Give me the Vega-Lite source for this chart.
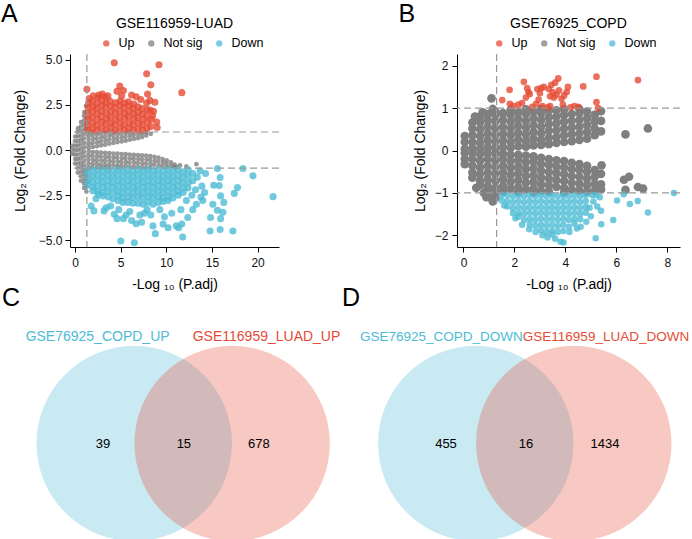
{
"$schema": "https://vega.github.io/schema/vega-lite/v6.json",
"padding": {"left": 1, "top": 2, "right": 0, "bottom": 0},
"background": "white",
"config": {
 "font": "Liberation Sans",
 "view": {"stroke": null},
 "axis": {"grid": false, "domainColor": "#000", "tickColor": "#000", "labelColor": "#111", "titleColor": "#000", "labelFontSize": 12, "titleFontSize": 14, "titleFontWeight": "normal", "tickSize": 5, "labelFlush": false, "labelOverlap": false, "labelFont": "Liberation Sans", "titleFont": "Liberation Sans"},
 "legend": {"orient": "none", "direction": "horizontal", "title": null, "symbolType": "circle", "symbolSize": 40, "symbolOpacity": 0.75, "symbolStrokeWidth": 0, "labelFontSize": 12.5, "labelFont": "Liberation Sans", "labelColor": "#000", "columnPadding": 10, "labelOffset": 6, "padding": 0}
},
"datasets": {
 "aU": [{"x":1.42,"y":1.12},{"x":1.38,"y":1.42},{"x":1.45,"y":1.75},{"x":1.4,"y":2.08},{"x":1.44,"y":2.36},{"x":1.5,"y":2.62},{"x":1.55,"y":2.85},
 {"x":1.9,"y":1.18},{"x":1.95,"y":1.5},{"x":1.88,"y":1.8},{"x":1.92,"y":2.1},{"x":1.97,"y":2.4},{"x":1.9,"y":2.7},
 {"x":2.4,"y":1.1},{"x":2.38,"y":1.38},{"x":2.45,"y":1.7},{"x":2.42,"y":2.02},{"x":2.36,"y":2.33},{"x":2.44,"y":2.6},{"x":2.5,"y":2.9},
 {"x":2.9,"y":1.2},{"x":2.95,"y":1.55},{"x":2.88,"y":1.85},{"x":2.92,"y":2.15},{"x":2.9,"y":2.45},{"x":2.96,"y":2.75},
 {"x":3.4,"y":1.12},{"x":3.38,"y":1.45},{"x":3.45,"y":1.75},{"x":3.42,"y":2.05},{"x":3.36,"y":2.38},{"x":3.4,"y":2.65},{"x":3.3,"y":2.95},
 {"x":3.9,"y":1.2},{"x":3.95,"y":1.5},{"x":3.88,"y":1.82},{"x":3.92,"y":2.12},{"x":3.9,"y":2.42},{"x":3.86,"y":2.7},
 {"x":4.4,"y":1.1},{"x":4.38,"y":1.42},{"x":4.45,"y":1.72},{"x":4.42,"y":2.05},{"x":4.36,"y":2.35},{"x":4.44,"y":2.62},
 {"x":4.9,"y":1.18},{"x":4.95,"y":1.5},{"x":4.88,"y":1.8},{"x":4.92,"y":2.12},{"x":4.9,"y":2.45},{"x":4.96,"y":2.72},
 {"x":5.4,"y":1.12},{"x":5.38,"y":1.4},{"x":5.45,"y":1.75},{"x":5.42,"y":2.05},{"x":5.36,"y":2.35},{"x":5.44,"y":2.6},
 {"x":5.9,"y":1.2},{"x":5.95,"y":1.5},{"x":5.88,"y":1.85},{"x":5.92,"y":2.15},{"x":5.9,"y":2.45},{"x":5.86,"y":2.68},
 {"x":6.4,"y":1.1},{"x":6.38,"y":1.4},{"x":6.45,"y":1.72},{"x":6.42,"y":2.02},{"x":6.36,"y":2.32},{"x":6.44,"y":2.55},
 {"x":6.9,"y":1.15},{"x":6.95,"y":1.48},{"x":6.88,"y":1.8},{"x":6.92,"y":2.1},{"x":6.9,"y":2.4},
 {"x":7.4,"y":1.1},{"x":7.38,"y":1.4},{"x":7.45,"y":1.7},{"x":7.42,"y":2.0},{"x":7.36,"y":2.3},
 {"x":7.9,"y":1.2},{"x":7.95,"y":1.55},{"x":7.88,"y":1.9},{"x":7.92,"y":2.25},{"x":7.85,"y":2.6},
 {"x":8.3,"y":1.3},{"x":8.35,"y":1.7},{"x":8.25,"y":2.2},
 {"x":4.3,"y":4.83},{"x":9.2,"y":4.72},{"x":7.85,"y":4.22},{"x":1.3,"y":3.37},{"x":4.9,"y":3.55},{"x":8.3,"y":3.61},{"x":11.7,"y":3.18},{"x":4.6,"y":3.25},{"x":5.3,"y":3.3},{"x":7.95,"y":3.1},{"x":8.2,"y":2.75},{"x":8.75,"y":2.65},{"x":8.95,"y":1.55},{"x":8.6,"y":2.15},{"x":8.5,"y":1.9},{"x":3.6,"y":3.0},{"x":6.2,"y":3.05},{"x":2.6,"y":3.05},{"x":7.2,"y":2.8},{"x":6.7,"y":2.95},{"x":9.0,"y":1.25},{"x":5.1,"y":3.0},{"x":3.0,"y":3.1},{"x":2.0,"y":3.0}],
 "aN": [{"x":-0.3,"y":-0.22},{"x":-0.32,"y":0.02},{"x":-0.28,"y":0.25},
 {"x":0,"y":-0.75},{"x":0.02,"y":-0.5},{"x":-0.02,"y":-0.25},{"x":0,"y":0},{"x":0.03,"y":0.25},{"x":-0.01,"y":0.5},{"x":0.02,"y":0.75},
 {"x":0.3,"y":-1.25},{"x":0.28,"y":-1.0},{"x":0.32,"y":-0.75},{"x":0.3,"y":-0.5},{"x":0.27,"y":-0.25},{"x":0.31,"y":0},{"x":0.29,"y":0.25},{"x":0.33,"y":0.5},{"x":0.3,"y":0.75},{"x":0.28,"y":1.0},{"x":0.32,"y":1.2},
 {"x":0.65,"y":-1.7},{"x":0.62,"y":-1.45},{"x":0.67,"y":-1.2},{"x":0.64,"y":-0.95},{"x":0.66,"y":-0.7},{"x":0.63,"y":-0.45},{"x":0.67,"y":-0.2},{"x":0.65,"y":0.05},{"x":0.62,"y":0.3},{"x":0.66,"y":0.55},{"x":0.64,"y":0.8},{"x":0.67,"y":1.05},{"x":0.63,"y":1.3},{"x":0.66,"y":1.55},
 {"x":1.0,"y":-2.1},{"x":0.98,"y":-1.85},{"x":1.02,"y":-1.6},{"x":0.99,"y":-1.35},{"x":1.01,"y":-1.1},{"x":0.97,"y":-0.85},{"x":1.03,"y":-0.6},{"x":1.0,"y":-0.35},{"x":0.98,"y":-0.1},{"x":1.02,"y":0.15},{"x":1.0,"y":0.4},{"x":0.97,"y":0.65},{"x":1.01,"y":0.9},{"x":1.03,"y":1.15},{"x":0.99,"y":1.4},{"x":1.0,"y":1.65},{"x":0.98,"y":1.9},{"x":1.02,"y":2.1},
 {"x":1.25,"y":-2.3},{"x":1.22,"y":-2.0},{"x":1.27,"y":-1.7},{"x":1.24,"y":-1.4},{"x":1.26,"y":-1.15},{"x":1.22,"y":1.2},{"x":1.27,"y":1.5},{"x":1.24,"y":1.8},{"x":1.26,"y":2.1},{"x":1.2,"y":2.45},
 {"x":1.5,"y":0.12},{"x":1.52,"y":0.34},{"x":1.48,"y":0.56},{"x":1.5,"y":0.78},{"x":1.53,"y":0.98},
 {"x":1.95,"y":0.17},{"x":1.93,"y":0.39},{"x":1.97,"y":0.61},{"x":1.95,"y":0.83},{"x":1.92,"y":1.0},
 {"x":2.4,"y":0.21},{"x":2.42,"y":0.43},{"x":2.38,"y":0.65},{"x":2.41,"y":0.87},
 {"x":2.85,"y":0.26},{"x":2.83,"y":0.48},{"x":2.87,"y":0.7},{"x":2.85,"y":0.92},
 {"x":3.3,"y":0.3},{"x":3.32,"y":0.52},{"x":3.28,"y":0.74},{"x":3.31,"y":0.96},
 {"x":3.75,"y":0.35},{"x":3.73,"y":0.57},{"x":3.77,"y":0.79},{"x":3.75,"y":0.99},
 {"x":4.2,"y":0.39},{"x":4.22,"y":0.61},{"x":4.18,"y":0.83},{"x":4.21,"y":1.0},
 {"x":4.65,"y":0.44},{"x":4.63,"y":0.66},{"x":4.67,"y":0.88},
 {"x":5.1,"y":0.48},{"x":5.12,"y":0.7},{"x":5.08,"y":0.92},
 {"x":5.55,"y":0.52},{"x":5.53,"y":0.74},{"x":5.57,"y":0.95},
 {"x":6.0,"y":0.57},{"x":6.02,"y":0.79},{"x":5.98,"y":0.98},
 {"x":6.45,"y":0.62},{"x":6.43,"y":0.84},{"x":6.9,"y":0.66},{"x":6.92,"y":0.88},{"x":7.35,"y":0.72},{"x":7.33,"y":0.93},{"x":7.8,"y":0.8},{"x":7.82,"y":0.96},{"x":8.3,"y":0.9},
 {"x":1.5,"y":-0.09},{"x":1.52,"y":-0.31},{"x":1.48,"y":-0.53},{"x":1.5,"y":-0.75},{"x":1.53,"y":-0.97},
 {"x":1.95,"y":-0.11},{"x":1.93,"y":-0.33},{"x":1.97,"y":-0.55},{"x":1.95,"y":-0.77},{"x":1.92,"y":-0.97},
 {"x":2.4,"y":-0.12},{"x":2.42,"y":-0.34},{"x":2.38,"y":-0.56},{"x":2.41,"y":-0.78},{"x":2.4,"y":-0.98},
 {"x":2.85,"y":-0.14},{"x":2.83,"y":-0.36},{"x":2.87,"y":-0.58},{"x":2.85,"y":-0.8},{"x":2.86,"y":-0.98},
 {"x":3.3,"y":-0.16},{"x":3.32,"y":-0.38},{"x":3.28,"y":-0.6},{"x":3.31,"y":-0.82},{"x":3.3,"y":-0.99},
 {"x":3.75,"y":-0.17},{"x":3.73,"y":-0.39},{"x":3.77,"y":-0.61},{"x":3.75,"y":-0.83},{"x":3.74,"y":-0.99},
 {"x":4.2,"y":-0.19},{"x":4.22,"y":-0.41},{"x":4.18,"y":-0.63},{"x":4.21,"y":-0.85},
 {"x":4.65,"y":-0.2},{"x":4.63,"y":-0.42},{"x":4.67,"y":-0.64},{"x":4.65,"y":-0.86},{"x":4.66,"y":-0.99},
 {"x":5.1,"y":-0.22},{"x":5.12,"y":-0.44},{"x":5.08,"y":-0.66},{"x":5.1,"y":-0.88},
 {"x":5.55,"y":-0.23},{"x":5.53,"y":-0.45},{"x":5.57,"y":-0.67},{"x":5.55,"y":-0.89},
 {"x":6.0,"y":-0.25},{"x":6.02,"y":-0.47},{"x":5.98,"y":-0.69},{"x":6.0,"y":-0.91},
 {"x":6.45,"y":-0.27},{"x":6.43,"y":-0.49},{"x":6.47,"y":-0.71},{"x":6.45,"y":-0.93},
 {"x":6.9,"y":-0.28},{"x":6.92,"y":-0.5},{"x":6.88,"y":-0.72},{"x":6.9,"y":-0.94},
 {"x":7.35,"y":-0.3},{"x":7.33,"y":-0.52},{"x":7.37,"y":-0.74},{"x":7.35,"y":-0.96},
 {"x":7.8,"y":-0.31},{"x":7.82,"y":-0.53},{"x":7.78,"y":-0.75},{"x":7.8,"y":-0.97},
 {"x":8.25,"y":-0.34},{"x":8.23,"y":-0.56},{"x":8.27,"y":-0.78},{"x":8.25,"y":-0.98},
 {"x":8.7,"y":-0.38},{"x":8.72,"y":-0.6},{"x":8.68,"y":-0.82},
 {"x":9.15,"y":-0.42},{"x":9.13,"y":-0.64},{"x":9.17,"y":-0.86},
 {"x":9.6,"y":-0.5},{"x":9.62,"y":-0.7},{"x":9.58,"y":-0.9},
 {"x":10.05,"y":-0.57},{"x":10.03,"y":-0.77},{"x":10.07,"y":-0.94},
 {"x":10.5,"y":-0.68},{"x":10.52,"y":-0.88},{"x":10.9,"y":-0.8},{"x":10.88,"y":-0.95},
 {"x":11.5,"y":-0.85},{"x":12.2,"y":-0.9},{"x":13.3,"y":-0.78},{"x":11.1,"y":-0.92}],
 "aD": [{"x":1.4,"y":-1.1},{"x":1.4,"y":-1.4},{"x":1.42,"y":-1.7},{"x":1.38,"y":-1.95},
 {"x":1.95,"y":-1.15},{"x":1.95,"y":-1.45},{"x":1.92,"y":-1.75},{"x":1.97,"y":-2.05},{"x":1.95,"y":-2.25},
 {"x":2.5,"y":-1.1},{"x":2.5,"y":-1.4},{"x":2.52,"y":-1.7},{"x":2.48,"y":-2.0},{"x":2.5,"y":-2.3},{"x":2.53,"y":-2.45},
 {"x":3.05,"y":-1.15},{"x":3.05,"y":-1.45},{"x":3.02,"y":-1.75},{"x":3.07,"y":-2.05},{"x":3.05,"y":-2.35},{"x":3.03,"y":-2.55},
 {"x":3.6,"y":-1.1},{"x":3.6,"y":-1.4},{"x":3.62,"y":-1.7},{"x":3.58,"y":-2.0},{"x":3.6,"y":-2.3},{"x":3.63,"y":-2.6},
 {"x":4.15,"y":-1.15},{"x":4.15,"y":-1.45},{"x":4.12,"y":-1.75},{"x":4.17,"y":-2.05},{"x":4.15,"y":-2.35},{"x":4.13,"y":-2.7},
 {"x":4.7,"y":-1.1},{"x":4.7,"y":-1.4},{"x":4.72,"y":-1.7},{"x":4.68,"y":-2.0},{"x":4.7,"y":-2.3},{"x":4.73,"y":-2.55},{"x":4.7,"y":-2.8},
 {"x":5.25,"y":-1.15},{"x":5.25,"y":-1.45},{"x":5.22,"y":-1.75},{"x":5.27,"y":-2.05},{"x":5.25,"y":-2.35},{"x":5.23,"y":-2.65},{"x":5.25,"y":-2.9},
 {"x":5.8,"y":-1.1},{"x":5.8,"y":-1.4},{"x":5.82,"y":-1.7},{"x":5.78,"y":-2.0},{"x":5.8,"y":-2.3},{"x":5.83,"y":-2.6},{"x":5.8,"y":-2.9},
 {"x":6.35,"y":-1.15},{"x":6.35,"y":-1.45},{"x":6.32,"y":-1.75},{"x":6.37,"y":-2.05},{"x":6.35,"y":-2.35},{"x":6.33,"y":-2.65},{"x":6.35,"y":-2.95},
 {"x":6.9,"y":-1.1},{"x":6.9,"y":-1.4},{"x":6.92,"y":-1.7},{"x":6.88,"y":-2.0},{"x":6.9,"y":-2.3},{"x":6.93,"y":-2.6},{"x":6.9,"y":-2.95},
 {"x":7.45,"y":-1.15},{"x":7.45,"y":-1.45},{"x":7.42,"y":-1.75},{"x":7.47,"y":-2.05},{"x":7.45,"y":-2.35},{"x":7.43,"y":-2.65},{"x":7.45,"y":-3.0},
 {"x":8.0,"y":-1.1},{"x":8.0,"y":-1.4},{"x":8.02,"y":-1.7},{"x":7.98,"y":-2.0},{"x":8.0,"y":-2.3},{"x":8.03,"y":-2.6},{"x":8.0,"y":-2.9},
 {"x":8.55,"y":-1.15},{"x":8.55,"y":-1.45},{"x":8.52,"y":-1.75},{"x":8.57,"y":-2.05},{"x":8.55,"y":-2.35},{"x":8.53,"y":-2.65},{"x":8.55,"y":-3.0},
 {"x":9.1,"y":-1.1},{"x":9.1,"y":-1.4},{"x":9.12,"y":-1.7},{"x":9.08,"y":-2.0},{"x":9.1,"y":-2.3},{"x":9.13,"y":-2.6},{"x":9.1,"y":-2.9},
 {"x":9.65,"y":-1.15},{"x":9.65,"y":-1.45},{"x":9.62,"y":-1.75},{"x":9.67,"y":-2.05},{"x":9.65,"y":-2.35},{"x":9.63,"y":-2.65},{"x":9.65,"y":-2.85},
 {"x":10.2,"y":-1.1},{"x":10.2,"y":-1.4},{"x":10.22,"y":-1.7},{"x":10.18,"y":-2.0},{"x":10.2,"y":-2.3},{"x":10.23,"y":-2.6},{"x":10.2,"y":-2.8},
 {"x":10.75,"y":-1.15},{"x":10.75,"y":-1.45},{"x":10.72,"y":-1.75},{"x":10.77,"y":-2.05},{"x":10.75,"y":-2.35},{"x":10.73,"y":-2.65},
 {"x":11.3,"y":-1.1},{"x":11.3,"y":-1.4},{"x":11.32,"y":-1.7},{"x":11.28,"y":-2.0},{"x":11.3,"y":-2.3},{"x":11.33,"y":-2.5},
 {"x":11.85,"y":-1.2},{"x":11.85,"y":-1.5},{"x":11.82,"y":-1.8},{"x":11.87,"y":-2.1},{"x":11.85,"y":-2.35},
 {"x":12.4,"y":-1.1},{"x":12.4,"y":-1.45},{"x":12.42,"y":-1.8},{"x":12.38,"y":-2.1},{"x":12.9,"y":-1.3},{"x":12.9,"y":-1.7},
 {"x":1.77,"y":-3.1},{"x":2.07,"y":-3.37},{"x":3.18,"y":-3.37},{"x":4.29,"y":-3.56},{"x":5.02,"y":-5.04},{"x":6.5,"y":-5.13},{"x":6.7,"y":-4.08},{"x":5.6,"y":-3.6},{"x":8.54,"y":-4.2},{"x":8.8,"y":-4.63},{"x":9.65,"y":-4.1},{"x":10.2,"y":-4.3},{"x":11.1,"y":-4.2},{"x":9.8,"y":-3.7},{"x":7.6,"y":-3.5},{"x":2.3,"y":-2.7},{"x":3.9,"y":-3.1},{"x":4.8,"y":-3.3},{"x":6.0,"y":-3.4},{"x":7.1,"y":-3.6},{"x":7.9,"y":-3.3},{"x":8.3,"y":-3.6},{"x":9.3,"y":-3.3},{"x":10.6,"y":-3.5},{"x":11.6,"y":-3.3},{"x":12.2,"y":-2.8},{"x":12.8,"y":-2.5},{"x":5.3,"y":-3.8},{"x":6.2,"y":-3.9},{"x":7.3,"y":-4.0},{"x":11.8,"y":-4.82},{"x":11.35,"y":-4.3},{"x":12.35,"y":-3.74},{"x":11.7,"y":-4.1},{"x":4.6,"y":-3.8},{"x":3.4,"y":-3.2},
 {"x":13.7,"y":-1.15},{"x":15.6,"y":-1.02},{"x":18.4,"y":-1.02},{"x":19.5,"y":-1.43},{"x":21.7,"y":-2.58},{"x":17.8,"y":-2.08},{"x":17.45,"y":-2.4},{"x":15.9,"y":-1.52},{"x":15.2,"y":-1.95},{"x":15.8,"y":-1.97},{"x":15.95,"y":-2.54},{"x":16.3,"y":-2.9},{"x":15.1,"y":-3.0},{"x":15.6,"y":-3.33},{"x":16.2,"y":-3.45},{"x":14.85,"y":-3.74},{"x":15.95,"y":-3.8},{"x":14.8,"y":-4.48},{"x":15.9,"y":-4.4},{"x":17.3,"y":-4.48},{"x":13.8,"y":-2.6},{"x":13.9,"y":-2.0},{"x":14.2,"y":-2.35},{"x":14.0,"y":-2.8},{"x":13.4,"y":-1.5},{"x":13.2,"y":-2.2},{"x":13.3,"y":-3.0},{"x":14.3,"y":-1.3},{"x":12.9,"y":-3.3}],
 "bU": [{"x":1.52,"y":1.19},{"x":1.81,"y":1.43},{"x":2.37,"y":1.62},{"x":1.82,"y":1.1},{"x":2.3,"y":1.12},{"x":2.45,"y":1.25},{"x":2.55,"y":1.38},{"x":2.5,"y":1.47},{"x":2.6,"y":1.33},{"x":2.85,"y":1.1},{"x":2.95,"y":1.2},{"x":3.0,"y":1.35},{"x":3.05,"y":1.47},{"x":2.9,"y":1.45},{"x":3.1,"y":1.05},{"x":3.15,"y":1.5},{"x":3.4,"y":1.28},{"x":3.45,"y":1.55},{"x":3.5,"y":1.38},{"x":3.55,"y":1.25},{"x":3.65,"y":1.32},{"x":3.72,"y":1.7},{"x":3.75,"y":1.42},{"x":3.85,"y":1.22},{"x":3.95,"y":1.3},{"x":3.9,"y":1.08},{"x":4.05,"y":1.38},{"x":4.2,"y":1.02},{"x":4.35,"y":1.05},{"x":4.5,"y":1.03},{"x":4.7,"y":1.51},{"x":5.22,"y":1.74},{"x":5.22,"y":1.14},{"x":5.28,"y":1.0},{"x":6.85,"y":1.66},{"x":3.3,"y":1.02},{"x":3.4,"y":1.05},{"x":2.7,"y":1.03},{"x":1.95,"y":1.05},{"x":2.15,"y":1.08},{"x":4.1,"y":1.5},{"x":3.6,"y":1.6},{"x":3.35,"y":1.45}],
 "bN": [{"x":0.05,"y":0.04},{"x":0.05,"y":0.2},{"x":0.05,"y":0.34},
 {"x":0.35,"y":0.05},{"x":0.35,"y":0.2},{"x":0.35,"y":0.36},{"x":0.35,"y":0.52},{"x":0.35,"y":0.66},
 {"x":0.65,"y":0.04},{"x":0.65,"y":0.18},{"x":0.65,"y":0.34},{"x":0.65,"y":0.5},{"x":0.65,"y":0.66},{"x":0.65,"y":0.8},
 {"x":0.95,"y":0.08},{"x":0.95,"y":0.24},{"x":0.95,"y":0.4},{"x":0.95,"y":0.56},{"x":0.95,"y":0.72},{"x":0.95,"y":0.86},
 {"x":1.25,"y":0.05},{"x":1.25,"y":0.2},{"x":1.25,"y":0.36},{"x":1.25,"y":0.52},{"x":1.25,"y":0.68},{"x":1.25,"y":0.84},{"x":1.25,"y":0.92},
 {"x":1.55,"y":0.08},{"x":1.55,"y":0.24},{"x":1.55,"y":0.4},{"x":1.55,"y":0.56},{"x":1.55,"y":0.72},{"x":1.55,"y":0.88},
 {"x":1.85,"y":0.06},{"x":1.85,"y":0.2},{"x":1.85,"y":0.36},{"x":1.85,"y":0.52},{"x":1.85,"y":0.68},{"x":1.85,"y":0.84},{"x":1.85,"y":0.96},
 {"x":2.15,"y":0.1},{"x":2.15,"y":0.26},{"x":2.15,"y":0.42},{"x":2.15,"y":0.58},{"x":2.15,"y":0.74},{"x":2.15,"y":0.9},
 {"x":2.45,"y":0.09},{"x":2.45,"y":0.22},{"x":2.45,"y":0.38},{"x":2.45,"y":0.54},{"x":2.45,"y":0.7},{"x":2.45,"y":0.86},{"x":2.45,"y":0.97},
 {"x":2.75,"y":0.12},{"x":2.75,"y":0.28},{"x":2.75,"y":0.44},{"x":2.75,"y":0.6},{"x":2.75,"y":0.76},{"x":2.75,"y":0.92},
 {"x":3.05,"y":0.13},{"x":3.05,"y":0.24},{"x":3.05,"y":0.4},{"x":3.05,"y":0.56},{"x":3.05,"y":0.72},{"x":3.05,"y":0.88},{"x":3.05,"y":0.98},
 {"x":3.35,"y":0.15},{"x":3.35,"y":0.3},{"x":3.35,"y":0.46},{"x":3.35,"y":0.62},{"x":3.35,"y":0.78},{"x":3.35,"y":0.94},
 {"x":3.65,"y":0.18},{"x":3.65,"y":0.32},{"x":3.65,"y":0.48},{"x":3.65,"y":0.64},{"x":3.65,"y":0.8},{"x":3.65,"y":0.95},
 {"x":3.95,"y":0.2},{"x":3.95,"y":0.36},{"x":3.95,"y":0.52},{"x":3.95,"y":0.68},{"x":3.95,"y":0.84},{"x":3.95,"y":0.97},
 {"x":4.25,"y":0.22},{"x":4.25,"y":0.38},{"x":4.25,"y":0.54},{"x":4.25,"y":0.7},{"x":4.25,"y":0.86},
 {"x":4.55,"y":0.25},{"x":4.55,"y":0.4},{"x":4.55,"y":0.56},{"x":4.55,"y":0.72},{"x":4.55,"y":0.88},{"x":4.55,"y":0.98},
 {"x":4.85,"y":0.28},{"x":4.85,"y":0.44},{"x":4.85,"y":0.6},{"x":4.85,"y":0.76},{"x":4.85,"y":0.92},
 {"x":5.15,"y":0.36},{"x":5.15,"y":0.52},{"x":5.15,"y":0.68},{"x":5.15,"y":0.84},
 {"x":5.4,"y":0.45},{"x":5.4,"y":0.7},{"x":5.4,"y":0.93},
 {"x":1.1,"y":1.23},{"x":6.36,"y":0.38},{"x":7.24,"y":0.52},{"x":0.45,"y":0.8},{"x":0.75,"y":0.9},{"x":1.15,"y":0.98},
 {"x":0.05,"y":-0.06},{"x":0.05,"y":-0.2},{"x":0.05,"y":-0.32},
 {"x":0.35,"y":-0.06},{"x":0.35,"y":-0.2},{"x":0.35,"y":-0.36},{"x":0.35,"y":-0.52},{"x":0.35,"y":-0.64},
 {"x":0.65,"y":-0.08},{"x":0.65,"y":-0.24},{"x":0.65,"y":-0.4},{"x":0.65,"y":-0.56},{"x":0.65,"y":-0.72},{"x":0.65,"y":-0.82},
 {"x":0.95,"y":-0.06},{"x":0.95,"y":-0.2},{"x":0.95,"y":-0.36},{"x":0.95,"y":-0.52},{"x":0.95,"y":-0.68},{"x":0.95,"y":-0.84},{"x":0.95,"y":-0.93},
 {"x":1.25,"y":-0.08},{"x":1.25,"y":-0.24},{"x":1.25,"y":-0.4},{"x":1.25,"y":-0.56},{"x":1.25,"y":-0.72},{"x":1.25,"y":-0.88},{"x":1.25,"y":-1.0},{"x":1.25,"y":-1.12},
 {"x":1.55,"y":-0.07},{"x":1.55,"y":-0.2},{"x":1.55,"y":-0.36},{"x":1.55,"y":-0.52},{"x":1.55,"y":-0.68},{"x":1.55,"y":-0.84},{"x":1.55,"y":-0.97},
 {"x":1.85,"y":-0.1},{"x":1.85,"y":-0.26},{"x":1.85,"y":-0.42},{"x":1.85,"y":-0.58},{"x":1.85,"y":-0.74},{"x":1.85,"y":-0.9},
 {"x":2.15,"y":-0.1},{"x":2.15,"y":-0.22},{"x":2.15,"y":-0.38},{"x":2.15,"y":-0.54},{"x":2.15,"y":-0.7},{"x":2.15,"y":-0.86},{"x":2.15,"y":-0.98},
 {"x":2.45,"y":-0.12},{"x":2.45,"y":-0.28},{"x":2.45,"y":-0.44},{"x":2.45,"y":-0.6},{"x":2.45,"y":-0.76},{"x":2.45,"y":-0.92},
 {"x":2.75,"y":-0.14},{"x":2.75,"y":-0.26},{"x":2.75,"y":-0.42},{"x":2.75,"y":-0.58},{"x":2.75,"y":-0.74},{"x":2.75,"y":-0.9},{"x":2.75,"y":-0.99},
 {"x":3.05,"y":-0.17},{"x":3.05,"y":-0.32},{"x":3.05,"y":-0.48},{"x":3.05,"y":-0.64},{"x":3.05,"y":-0.8},{"x":3.05,"y":-0.95},
 {"x":3.35,"y":-0.2},{"x":3.35,"y":-0.34},{"x":3.35,"y":-0.5},{"x":3.35,"y":-0.66},{"x":3.35,"y":-0.82},{"x":3.35,"y":-0.97},
 {"x":3.65,"y":-0.23},{"x":3.65,"y":-0.38},{"x":3.65,"y":-0.54},{"x":3.65,"y":-0.7},{"x":3.65,"y":-0.86},
 {"x":3.95,"y":-0.25},{"x":3.95,"y":-0.4},{"x":3.95,"y":-0.56},{"x":3.95,"y":-0.72},{"x":3.95,"y":-0.88},{"x":3.95,"y":-0.99},
 {"x":4.25,"y":-0.29},{"x":4.25,"y":-0.44},{"x":4.25,"y":-0.6},{"x":4.25,"y":-0.76},{"x":4.25,"y":-0.92},
 {"x":4.55,"y":-0.32},{"x":4.55,"y":-0.46},{"x":4.55,"y":-0.62},{"x":4.55,"y":-0.78},{"x":4.55,"y":-0.94},
 {"x":4.85,"y":-0.36},{"x":4.85,"y":-0.5},{"x":4.85,"y":-0.66},{"x":4.85,"y":-0.82},{"x":4.85,"y":-0.97},
 {"x":5.15,"y":-0.46},{"x":5.15,"y":-0.62},{"x":5.15,"y":-0.78},{"x":5.15,"y":-0.94},
 {"x":5.4,"y":-0.55},{"x":5.4,"y":-0.8},{"x":5.4,"y":-0.92},
 {"x":6.3,"y":-0.69},{"x":6.5,"y":-0.62},{"x":6.36,"y":-0.93},{"x":6.85,"y":-0.86},{"x":7.05,"y":-0.9},{"x":0.5,"y":-0.88},{"x":0.8,"y":-1.0},{"x":1.15,"y":-1.2},{"x":0.9,"y":-1.1},{"x":1.05,"y":-1.1},{"x":5.42,"y":-0.35}],
 "bD": [{"x":1.5,"y":-1.05},{"x":1.5,"y":-1.18},
 {"x":1.72,"y":-1.05},{"x":1.72,"y":-1.19},{"x":1.72,"y":-1.32},
 {"x":1.94,"y":-1.08},{"x":1.94,"y":-1.22},{"x":1.94,"y":-1.36},{"x":1.94,"y":-1.48},
 {"x":2.16,"y":-1.05},{"x":2.16,"y":-1.19},{"x":2.16,"y":-1.33},{"x":2.16,"y":-1.47},{"x":2.16,"y":-1.56},
 {"x":2.38,"y":-1.08},{"x":2.38,"y":-1.22},{"x":2.38,"y":-1.36},{"x":2.38,"y":-1.5},{"x":2.38,"y":-1.64},
 {"x":2.6,"y":-1.05},{"x":2.6,"y":-1.19},{"x":2.6,"y":-1.33},{"x":2.6,"y":-1.47},{"x":2.6,"y":-1.61},{"x":2.6,"y":-1.74},
 {"x":2.82,"y":-1.08},{"x":2.82,"y":-1.22},{"x":2.82,"y":-1.36},{"x":2.82,"y":-1.5},{"x":2.82,"y":-1.64},{"x":2.82,"y":-1.78},
 {"x":3.04,"y":-1.05},{"x":3.04,"y":-1.19},{"x":3.04,"y":-1.33},{"x":3.04,"y":-1.47},{"x":3.04,"y":-1.61},{"x":3.04,"y":-1.75},{"x":3.04,"y":-1.88},
 {"x":3.26,"y":-1.08},{"x":3.26,"y":-1.22},{"x":3.26,"y":-1.36},{"x":3.26,"y":-1.5},{"x":3.26,"y":-1.64},{"x":3.26,"y":-1.78},{"x":3.26,"y":-1.92},
 {"x":3.48,"y":-1.05},{"x":3.48,"y":-1.19},{"x":3.48,"y":-1.33},{"x":3.48,"y":-1.47},{"x":3.48,"y":-1.61},{"x":3.48,"y":-1.75},{"x":3.48,"y":-1.89},{"x":3.48,"y":-1.98},
 {"x":3.7,"y":-1.08},{"x":3.7,"y":-1.22},{"x":3.7,"y":-1.36},{"x":3.7,"y":-1.5},{"x":3.7,"y":-1.64},{"x":3.7,"y":-1.78},{"x":3.7,"y":-1.92},
 {"x":3.92,"y":-1.05},{"x":3.92,"y":-1.19},{"x":3.92,"y":-1.33},{"x":3.92,"y":-1.47},{"x":3.92,"y":-1.61},{"x":3.92,"y":-1.75},{"x":3.92,"y":-1.9},
 {"x":4.14,"y":-1.08},{"x":4.14,"y":-1.22},{"x":4.14,"y":-1.36},{"x":4.14,"y":-1.5},{"x":4.14,"y":-1.64},{"x":4.14,"y":-1.8},
 {"x":4.36,"y":-1.05},{"x":4.36,"y":-1.19},{"x":4.36,"y":-1.33},{"x":4.36,"y":-1.47},{"x":4.36,"y":-1.61},{"x":4.36,"y":-1.72},
 {"x":4.58,"y":-1.08},{"x":4.58,"y":-1.22},{"x":4.58,"y":-1.36},{"x":4.58,"y":-1.5},{"x":4.58,"y":-1.62},
 {"x":4.8,"y":-1.05},{"x":4.8,"y":-1.19},{"x":4.8,"y":-1.33},{"x":4.8,"y":-1.47},
 {"x":2.04,"y":-1.6},{"x":2.58,"y":-1.86},{"x":2.83,"y":-1.92},{"x":3.3,"y":-2.05},{"x":3.81,"y":-2.15},{"x":3.93,"y":-2.17},{"x":4.16,"y":-1.92},{"x":4.45,"y":-1.84},{"x":4.82,"y":-1.68},{"x":5.19,"y":-2.07},{"x":5.41,"y":-1.74},{"x":5.88,"y":-1.64},{"x":6.03,"y":-1.18},{"x":6.29,"y":-1.03},{"x":6.53,"y":-1.26},{"x":6.84,"y":-1.19},{"x":7.24,"y":-1.46},{"x":8.26,"y":-1.0},{"x":5.1,"y":-1.2},{"x":5.25,"y":-1.32},{"x":5.35,"y":-1.1},{"x":5.4,"y":-1.42},{"x":5.0,"y":-1.55},{"x":5.2,"y":-1.05},{"x":2.3,"y":-1.75},{"x":3.1,"y":-2.0},{"x":3.6,"y":-2.08},{"x":4.6,"y":-1.8},{"x":4.95,"y":-1.35},{"x":5.05,"y":-1.05},{"x":1.6,"y":-1.3}]
},
"vconcat": [
 {"hconcat": [
  {"width": 209, "height": 193,
   "layer": [
    {"data": {"name": "aN"}, "mark": {"type": "point", "filled": true, "size": 22, "opacity": 0.8, "strokeWidth": 0},
     "encoding": {
      "x": {"field": "x", "type": "quantitative", "scale": {"domain": [-0.55, 22.35], "nice": false, "zero": false}, "axis": {"values": [0, 5, 10, 15, 20], "title": "-Log ₁₀ (P.adj)", "labelPadding": 5, "titlePadding": 9}},
      "y": {"field": "y", "type": "quantitative", "scale": {"domain": [-5.37, 5.32], "nice": false, "zero": false}, "axis": {"values": [-5, -2.5, 0, 2.5, 5], "format": ".1f", "title": "Log₂ (Fold Change)", "labelPadding": 3, "titlePadding": 11}},
      "color": {"datum": "Not sig", "scale": {"domain": ["Up", "Not sig", "Down"], "range": ["#E64B35", "#7F7F7F", "#4DBBD5"]}, "legend": {"legendX": 30, "legendY": -17}}}},
    {"data": {"name": "aU"}, "mark": {"type": "point", "filled": true, "size": 50, "opacity": 0.8, "strokeWidth": 0},
     "encoding": {"x": {"field": "x", "type": "quantitative"}, "y": {"field": "y", "type": "quantitative"}, "color": {"datum": "Up"}}},
    {"data": {"name": "aD"}, "mark": {"type": "point", "filled": true, "size": 50, "opacity": 0.8, "strokeWidth": 0},
     "encoding": {"x": {"field": "x", "type": "quantitative"}, "y": {"field": "y", "type": "quantitative"}, "color": {"datum": "Down"}}},
    {"data": {"values": [{"h": 1}, {"h": -1}]}, "mark": {"type": "rule", "color": "#999999", "strokeDash": [7, 4], "strokeWidth": 1.2}, "encoding": {"y": {"field": "h", "type": "quantitative"}}},
    {"data": {"values": [{"v": 1.3}]}, "mark": {"type": "rule", "color": "#999999", "strokeDash": [7, 4], "strokeWidth": 1.2}, "encoding": {"x": {"field": "v", "type": "quantitative"}}},
    {"data": {"values": [{"t": "A"}]}, "mark": {"type": "text", "fontSize": 25, "align": "left", "baseline": "alphabetic", "color": "#000"}, "encoding": {"x": {"datum": -8.1}, "y": {"datum": 7.07}, "text": {"field": "t"}}},
    {"data": {"values": [{"t": "GSE116959-LUAD"}]}, "mark": {"type": "text", "fontSize": 14, "align": "center", "baseline": "alphabetic", "color": "#000"}, "encoding": {"x": {"datum": 10.9}, "y": {"datum": 6.78}, "text": {"field": "t"}}}
   ]},
  {"width": 223, "height": 193,
   "layer": [
    {"data": {"name": "bN"}, "mark": {"type": "point", "filled": true, "size": 75, "opacity": 1, "strokeWidth": 0},
     "encoding": {
      "x": {"field": "x", "type": "quantitative", "scale": {"domain": [-0.255, 8.5], "nice": false, "zero": false}, "axis": {"values": [0, 2, 4, 6, 8], "title": "-Log ₁₀ (P.adj)", "labelPadding": 5, "titlePadding": 9}},
      "y": {"field": "y", "type": "quantitative", "scale": {"domain": [-2.276, 2.276], "nice": false, "zero": false}, "axis": {"values": [-2, -1, 0, 1, 2], "format": "d", "title": "Log₂ (Fold Change)", "labelPadding": 4, "titlePadding": 7}},
      "color": {"datum": "Not sig", "scale": {"domain": ["Up", "Not sig", "Down"], "range": ["#E64B35", "#7F7F7F", "#4DBBD5"]}, "legend": {"legendX": 36, "legendY": -17}}}},
    {"data": {"name": "bU"}, "mark": {"type": "point", "filled": true, "size": 45, "opacity": 0.8, "strokeWidth": 0},
     "encoding": {"x": {"field": "x", "type": "quantitative"}, "y": {"field": "y", "type": "quantitative"}, "color": {"datum": "Up"}}},
    {"data": {"name": "bD"}, "mark": {"type": "point", "filled": true, "size": 42, "opacity": 0.8, "strokeWidth": 0},
     "encoding": {"x": {"field": "x", "type": "quantitative"}, "y": {"field": "y", "type": "quantitative"}, "color": {"datum": "Down"}}},
    {"data": {"values": [{"h": 1}, {"h": -1}]}, "mark": {"type": "rule", "color": "#999999", "strokeDash": [7, 4], "strokeWidth": 1.2}, "encoding": {"y": {"field": "h", "type": "quantitative"}}},
    {"data": {"values": [{"v": 1.3}]}, "mark": {"type": "rule", "color": "#999999", "strokeDash": [7, 4], "strokeWidth": 1.2}, "encoding": {"x": {"field": "v", "type": "quantitative"}}},
    {"data": {"values": [{"t": "B"}]}, "mark": {"type": "text", "fontSize": 25, "align": "left", "baseline": "alphabetic", "color": "#000"}, "encoding": {"x": {"datum": -2.55}, "y": {"datum": 3.02}, "text": {"field": "t"}}},
    {"data": {"values": [{"t": "GSE76925_COPD"}]}, "mark": {"type": "text", "fontSize": 14, "align": "center", "baseline": "alphabetic", "color": "#000"}, "encoding": {"x": {"datum": 4.12}, "y": {"datum": 2.896}, "text": {"field": "t"}}}
   ]}
  ],
  "spacing": 118,
  "resolve": {"scale": {"color": "independent"}, "legend": {"color": "independent"}}},
 {"hconcat": [
  {"width": 272, "height": 259,
   "layer": [
    {"data": {"values": [{"set": "GSE76925_COPD_UP", "x": -0.5, "y": 0}, {"set": "GSE116959_LUAD_UP", "x": 0.5, "y": 0}]},
     "mark": {"type": "point", "filled": true, "size": 38200, "opacity": 0.3, "strokeWidth": 0},
     "encoding": {
      "x": {"field": "x", "type": "quantitative", "scale": {"domain": [-1.156, 1.622], "nice": false, "zero": false}, "axis": null},
      "y": {"field": "y", "type": "quantitative", "scale": {"domain": [-1.005, 1.638], "nice": false, "zero": false}, "axis": null},
      "color": {"field": "set", "type": "nominal", "scale": {"domain": ["GSE76925_COPD_UP", "GSE116959_LUAD_UP"], "range": ["#4DBBD5", "#E64B35"]}, "legend": null}}},
    {"data": {"values": [{"set": "GSE76925_COPD_UP", "x": -0.874, "y": 1.046}, {"set": "GSE116959_LUAD_UP", "x": 0.851, "y": 1.046}]},
     "mark": {"type": "text", "fontSize": 14, "align": "center", "baseline": "alphabetic"},
     "encoding": {"x": {"field": "x", "type": "quantitative"}, "y": {"field": "y", "type": "quantitative"}, "text": {"field": "set"}, "color": {"field": "set", "type": "nominal"}}},
    {"data": {"values": [{"n": "39", "x": -0.819, "y": -0.01}, {"n": "15", "x": 0.007, "y": -0.01}, {"n": "678", "x": 0.773, "y": -0.01}]},
     "mark": {"type": "text", "fontSize": 13, "align": "center", "baseline": "middle", "color": "#000"},
     "encoding": {"x": {"field": "x", "type": "quantitative"}, "y": {"field": "y", "type": "quantitative"}, "text": {"field": "n"}}},
    {"data": {"values": [{"t": "C"}]}, "mark": {"type": "text", "fontSize": 25, "align": "left", "baseline": "alphabetic", "color": "#000"}, "encoding": {"x": {"datum": -1.85}, "y": {"datum": 1.403}, "text": {"field": "t"}}}
   ]},
  {"width": 350, "height": 259,
   "layer": [
    {"data": {"values": [{"set": "GSE76925_COPD_DOWN", "x": -0.5, "y": 0}, {"set": "GSE116959_LUAD_DOWN", "x": 0.5, "y": 0}]},
     "mark": {"type": "point", "filled": true, "size": 38200, "opacity": 0.3, "strokeWidth": 0},
     "encoding": {
      "x": {"field": "x", "type": "quantitative", "scale": {"domain": [-1.865, 1.706], "nice": false, "zero": false}, "axis": null},
      "y": {"field": "y", "type": "quantitative", "scale": {"domain": [-1.005, 1.638], "nice": false, "zero": false}, "axis": null},
      "color": {"field": "set", "type": "nominal", "scale": {"domain": ["GSE76925_COPD_DOWN", "GSE116959_LUAD_DOWN"], "range": ["#4DBBD5", "#E64B35"]}, "legend": null}}},
    {"data": {"values": [{"set": "GSE76925_COPD_DOWN", "x": -0.02, "y": 1.046}]},
     "mark": {"type": "text", "fontSize": 13.5, "align": "right", "baseline": "alphabetic"},
     "encoding": {"x": {"field": "x", "type": "quantitative"}, "y": {"field": "y", "type": "quantitative"}, "text": {"field": "set"}, "color": {"field": "set", "type": "nominal"}}},
    {"data": {"values": [{"set": "GSE116959_LUAD_DOWN", "x": -0.02, "y": 1.046}]},
     "mark": {"type": "text", "fontSize": 13.5, "align": "left", "baseline": "alphabetic"},
     "encoding": {"x": {"field": "x", "type": "quantitative"}, "y": {"field": "y", "type": "quantitative"}, "text": {"field": "set"}, "color": {"field": "set", "type": "nominal"}}},
    {"data": {"values": [{"n": "455", "x": -0.804, "y": -0.01}, {"n": "16", "x": 0.012, "y": -0.01}, {"n": "1434", "x": 0.818, "y": -0.01}]},
     "mark": {"type": "text", "fontSize": 13, "align": "center", "baseline": "middle", "color": "#000"},
     "encoding": {"x": {"field": "x", "type": "quantitative"}, "y": {"field": "y", "type": "quantitative"}, "text": {"field": "n"}}},
    {"data": {"values": [{"t": "D"}]}, "mark": {"type": "text", "fontSize": 25, "align": "left", "baseline": "alphabetic", "color": "#000"}, "encoding": {"x": {"datum": -1.865}, "y": {"datum": 1.403}, "text": {"field": "t"}}}
   ]}
  ],
  "spacing": 0,
  "resolve": {"scale": {"color": "independent"}}}
],
"align": "none",
"spacing": -8
}
